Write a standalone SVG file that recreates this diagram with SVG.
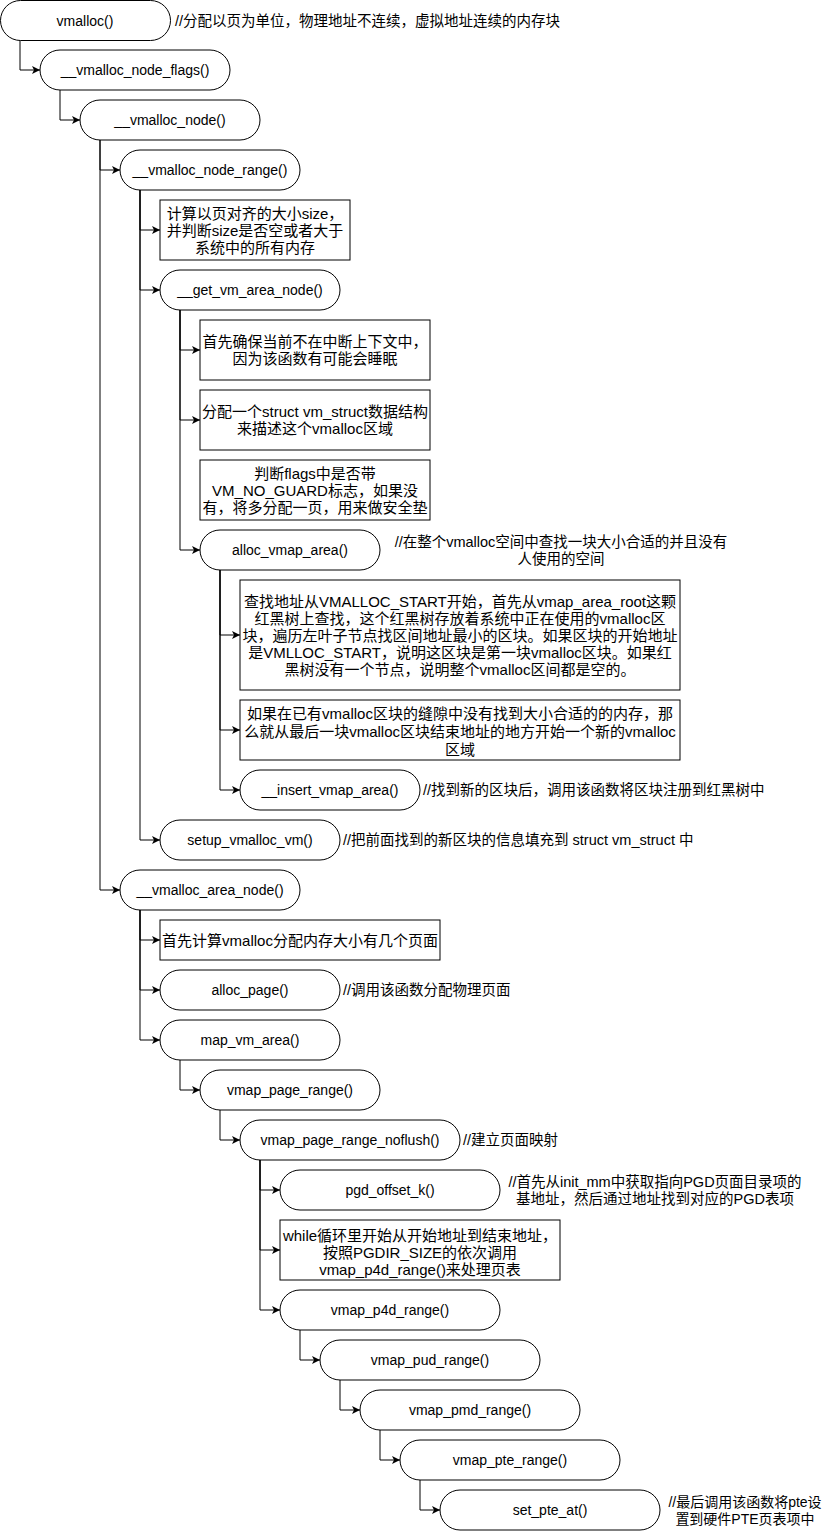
<svg xmlns="http://www.w3.org/2000/svg" width="831" height="1531" viewBox="0 0 831 1531">
<style>
  .shape { fill: #ffffff; stroke: #000000; stroke-width: 1; }
  .t { font-family: "Liberation Sans", "Noto Sans CJK SC", sans-serif; font-size: 14px; fill: #000000; text-anchor: middle; dominant-baseline: central; }
  .b { font-family: "Liberation Sans", "Noto Sans CJK SC", sans-serif; font-size: 15px; fill: #000000; text-anchor: middle; dominant-baseline: central; }
  .c { font-family: "Liberation Sans", "Noto Sans CJK SC", sans-serif; font-size: 14.5px; fill: #000000; text-anchor: start; dominant-baseline: central; }
  .cm { font-family: "Liberation Sans", "Noto Sans CJK SC", sans-serif; font-size: 14.5px; fill: #000000; text-anchor: middle; dominant-baseline: central; }
  .cs { font-family: "Liberation Sans", "Noto Sans CJK SC", sans-serif; font-size: 14px; fill: #000000; text-anchor: middle; dominant-baseline: central; }
  .edge { fill: none; stroke: #000000; stroke-width: 1; }
</style>
<defs>
  <marker id="arrow" markerUnits="userSpaceOnUse" markerWidth="9" markerHeight="8" refX="8" refY="4" orient="auto">
    <path d="M0,0 L8,4 L0,8 L2,4 Z" fill="#000000"/>
  </marker>
</defs>
<rect width="831" height="1531" fill="#ffffff"/>

<g id="connectors">
  <path class="edge" marker-end="url(#arrow)" d="M20,40 V70 H40"/>
  <path class="edge" marker-end="url(#arrow)" d="M60,90 V120 H80"/>
  <path class="edge" marker-end="url(#arrow)" d="M100,140 V170 H120"/>
  <path class="edge" marker-end="url(#arrow)" d="M100,140 V890 H120"/>
  <path class="edge" marker-end="url(#arrow)" d="M140,190 V230 H160"/>
  <path class="edge" marker-end="url(#arrow)" d="M140,190 V290 H160"/>
  <path class="edge" marker-end="url(#arrow)" d="M140,190 V840 H160"/>
  <path class="edge" marker-end="url(#arrow)" d="M180,310 V350 H200"/>
  <path class="edge" marker-end="url(#arrow)" d="M180,310 V420 H200"/>
  <path class="edge" marker-end="url(#arrow)" d="M180,310 V550 H200"/>
  <path class="edge" marker-end="url(#arrow)" d="M220,570 V635 H240"/>
  <path class="edge" marker-end="url(#arrow)" d="M220,570 V730 H240"/>
  <path class="edge" marker-end="url(#arrow)" d="M220,570 V790 H240"/>
  <path class="edge" marker-end="url(#arrow)" d="M140,910 V940 H160"/>
  <path class="edge" marker-end="url(#arrow)" d="M140,910 V990 H160"/>
  <path class="edge" marker-end="url(#arrow)" d="M140,910 V1040 H160"/>
  <path class="edge" marker-end="url(#arrow)" d="M180,1060 V1090 H200"/>
  <path class="edge" marker-end="url(#arrow)" d="M220,1110 V1140 H240"/>
  <path class="edge" marker-end="url(#arrow)" d="M260,1160 V1190 H280"/>
  <path class="edge" marker-end="url(#arrow)" d="M260,1160 V1250 H280"/>
  <path class="edge" marker-end="url(#arrow)" d="M260,1160 V1310 H280"/>
  <path class="edge" marker-end="url(#arrow)" d="M300,1330 V1360 H320"/>
  <path class="edge" marker-end="url(#arrow)" d="M340,1380 V1410 H360"/>
  <path class="edge" marker-end="url(#arrow)" d="M380,1430 V1460 H400"/>
  <path class="edge" marker-end="url(#arrow)" d="M420,1480 V1510 H440"/>
</g>

<g id="n_vmalloc">
  <rect class="shape" x="0.5" y="0.5" width="170" height="40" rx="20"/>
  <text class="t" x="85" y="20.5">vmalloc()</text>
  <text class="c" x="175" y="20.5">//分配以页为单位，物理地址不连续，虚拟地址连续的内存块</text>
</g>
<g id="n_vmalloc_node_flags">
  <rect class="shape" x="40" y="50" width="190" height="40" rx="20"/>
  <text class="t" x="135" y="70">__vmalloc_node_flags()</text>
</g>
<g id="n_vmalloc_node">
  <rect class="shape" x="80" y="100" width="180" height="40" rx="20"/>
  <text class="t" x="170" y="120">__vmalloc_node()</text>
</g>
<g id="n_vmalloc_node_range">
  <rect class="shape" x="120" y="150" width="180" height="40" rx="20"/>
  <text class="t" x="210" y="170">__vmalloc_node_range()</text>
</g>
<g id="b_size">
  <rect class="shape" x="160" y="200" width="190" height="60"/>
  <text class="b" x="255" y="213">计算以页对齐的大小size，</text>
  <text class="b" x="255" y="230">并判断size是否空或者大于</text>
  <text class="b" x="255" y="247">系统中的所有内存</text>
</g>
<g id="n_get_vm_area_node">
  <rect class="shape" x="160" y="270" width="180" height="40" rx="20"/>
  <text class="t" x="250" y="290">__get_vm_area_node()</text>
</g>
<g id="b_context">
  <rect class="shape" x="200" y="320" width="230" height="60"/>
  <text class="b" x="315" y="341">首先确保当前不在中断上下文中，</text>
  <text class="b" x="315" y="358">因为该函数有可能会睡眠</text>
</g>
<g id="b_vm_struct">
  <rect class="shape" x="200" y="390" width="230" height="60"/>
  <text class="b" x="315" y="411">分配一个struct vm_struct数据结构</text>
  <text class="b" x="315" y="428">来描述这个vmalloc区域</text>
</g>
<g id="b_flags">
  <rect class="shape" x="200" y="460" width="230" height="60"/>
  <text class="b" x="315" y="473">判断flags中是否带</text>
  <text class="b" x="315" y="490">VM_NO_GUARD标志，如果没</text>
  <text class="b" x="315" y="507">有，将多分配一页，用来做安全垫</text>
</g>
<g id="n_alloc_vmap_area">
  <rect class="shape" x="200" y="530" width="180" height="40" rx="20"/>
  <text class="t" x="290" y="550">alloc_vmap_area()</text>
  <text class="cm" x="561" y="542">//在整个vmalloc空间中查找一块大小合适的并且没有</text>
  <text class="cm" x="561" y="559">人使用的空间</text>
</g>
<g id="b_find">
  <rect class="shape" x="240" y="580" width="440" height="110"/>
  <text class="b" x="460" y="601">查找地址从VMALLOC_START开始，首先从vmap_area_root这颗</text>
  <text class="b" x="460" y="618">红黑树上查找，这个红黑树存放着系统中正在使用的vmalloc区</text>
  <text class="b" x="460" y="635">块，遍历左叶子节点找区间地址最小的区块。如果区块的开始地址</text>
  <text class="b" x="460" y="652">是VMLLOC_START，说明这区块是第一块vmalloc区块。如果红</text>
  <text class="b" x="460" y="669">黑树没有一个节点，说明整个vmalloc区间都是空的。</text>
</g>
<g id="b_new_area">
  <rect class="shape" x="240" y="700" width="440" height="60"/>
  <text class="b" x="460" y="713">如果在已有vmalloc区块的缝隙中没有找到大小合适的的内存，那</text>
  <text class="b" x="460" y="731">么就从最后一块vmalloc区块结束地址的地方开始一个新的vmalloc</text>
  <text class="b" x="460" y="749">区域</text>
</g>
<g id="n_insert_vmap_area">
  <rect class="shape" x="240" y="770" width="180" height="40" rx="20"/>
  <text class="t" x="330" y="790">__insert_vmap_area()</text>
  <text class="c" x="423" y="790">//找到新的区块后，调用该函数将区块注册到红黑树中</text>
</g>
<g id="n_setup_vmalloc_vm">
  <rect class="shape" x="160" y="820" width="180" height="40" rx="20"/>
  <text class="t" x="250" y="840">setup_vmalloc_vm()</text>
  <text class="c" x="343" y="840">//把前面找到的新区块的信息填充到 struct vm_struct 中</text>
</g>
<g id="n_vmalloc_area_node">
  <rect class="shape" x="120" y="870" width="180" height="40" rx="20"/>
  <text class="t" x="210" y="890">__vmalloc_area_node()</text>
</g>
<g id="b_pages">
  <rect class="shape" x="160" y="920" width="280" height="40"/>
  <text class="b" x="300" y="940">首先计算vmalloc分配内存大小有几个页面</text>
</g>
<g id="n_alloc_page">
  <rect class="shape" x="160" y="970" width="180" height="40" rx="20"/>
  <text class="t" x="250" y="990">alloc_page()</text>
  <text class="c" x="343" y="990">//调用该函数分配物理页面</text>
</g>
<g id="n_map_vm_area">
  <rect class="shape" x="160" y="1020" width="180" height="40" rx="20"/>
  <text class="t" x="250" y="1040">map_vm_area()</text>
</g>
<g id="n_vmap_page_range">
  <rect class="shape" x="200" y="1070" width="180" height="40" rx="20"/>
  <text class="t" x="290" y="1090">vmap_page_range()</text>
</g>
<g id="n_vmap_page_range_noflush">
  <rect class="shape" x="240" y="1120" width="220" height="40" rx="20"/>
  <text class="t" x="350" y="1140">vmap_page_range_noflush()</text>
  <text class="c" x="463" y="1140">//建立页面映射</text>
</g>
<g id="n_pgd_offset_k">
  <rect class="shape" x="280" y="1170" width="220" height="40" rx="20"/>
  <text class="t" x="390" y="1190">pgd_offset_k()</text>
  <text class="cm" x="655" y="1182">//首先从init_mm中获取指向PGD页面目录项的</text>
  <text class="cm" x="655" y="1199">基地址，然后通过地址找到对应的PGD表项</text>
</g>
<g id="b_while">
  <rect class="shape" x="280" y="1220" width="280" height="60"/>
  <text class="b" x="420" y="1235">while循环里开始从开始地址到结束地址，</text>
  <text class="b" x="420" y="1252">按照PGDIR_SIZE的依次调用</text>
  <text class="b" x="420" y="1269">vmap_p4d_range()来处理页表</text>
</g>
<g id="n_vmap_p4d_range">
  <rect class="shape" x="280" y="1290" width="220" height="40" rx="20"/>
  <text class="t" x="390" y="1310">vmap_p4d_range()</text>
</g>
<g id="n_vmap_pud_range">
  <rect class="shape" x="320" y="1340" width="220" height="40" rx="20"/>
  <text class="t" x="430" y="1360">vmap_pud_range()</text>
</g>
<g id="n_vmap_pmd_range">
  <rect class="shape" x="360" y="1390" width="220" height="40" rx="20"/>
  <text class="t" x="470" y="1410">vmap_pmd_range()</text>
</g>
<g id="n_vmap_pte_range">
  <rect class="shape" x="400" y="1440" width="220" height="40" rx="20"/>
  <text class="t" x="510" y="1460">vmap_pte_range()</text>
</g>
<g id="n_set_pte_at">
  <rect class="shape" x="440" y="1490" width="220" height="40" rx="20"/>
  <text class="t" x="550" y="1510">set_pte_at()</text>
  <text class="cs" x="745" y="1502">//最后调用该函数将pte设</text>
  <text class="cs" x="745" y="1519">置到硬件PTE页表项中</text>
</g>
</svg>
